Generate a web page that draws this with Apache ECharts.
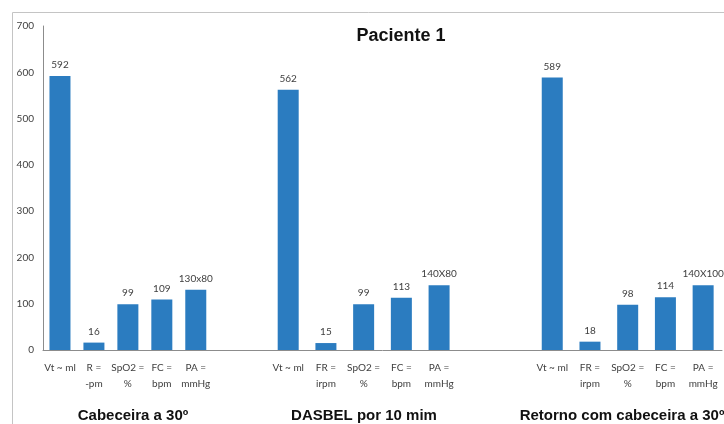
<!DOCTYPE html>
<html>
<head>
<meta charset="utf-8">
<script src="https://cdn.jsdelivr.net/npm/echarts@6/dist/echarts.min.js"></script>
<style>
  html, body { margin: 0; padding: 0; background: #fff; }
  #chart { width: 724px; height: 424px; }
</style>
</head>
<body>
<div id="chart"></div>
<script>
// First group ("Cabeceira a 30º") sits on its own, tighter category axis
const group1Categories = ['Vt ~ ml', 'R =\n-pm', 'SpO2 =\n%', 'FC =\nbpm', 'PA =\nmmHg'];
const group1Values = [592, 16, 99, 109, 130];
const group1Labels = ['592', '16', '99', '109', '130x80'];
const group1Slots = 20; // total slots on that axis; only the first five are used

// Second and third groups, with empty slots before and between them
const categories = [
  '', '', '', '', '',
  '',
  'Vt ~ ml', 'FR =\nirpm', 'SpO2 =\n%', 'FC =\nbpm', 'PA =\nmmHg',
  '', '',
  'Vt ~ ml', 'FR =\nirpm', 'SpO2 =\n%', 'FC =\nbpm', 'PA =\nmmHg'
];
const values = [
  null, null, null, null, null,
  null,
  562, 15, 99, 113, 140,
  null, null,
  589, 18, 98, 114, 140
];
const valueLabels = [
  '', '', '', '', '',
  '',
  '562', '15', '99', '113', '140X80',
  '', '',
  '589', '18', '98', '114', '140X100'
];
const yTicks = [0, 100, 200, 300, 400, 500, 600, 700];
const groupTitles = ['Cabeceira a 30º', 'DASBEL por 10 mim', 'Retorno com cabeceira a 30º'];
const chartTitle = 'Paciente 1';

// Pad the first group's axis out to its slot count
const g1Cats = group1Categories.concat(new Array(group1Slots - group1Categories.length).fill(''));
const g1Vals = group1Values.concat(new Array(group1Slots - group1Values.length).fill(null));

const textColor = '#404040';
const labelFont = { color: textColor, fontFamily: 'Lato', fontSize: 10 };
const barColor = '#2b7cc0';

const chart = echarts.init(document.getElementById('chart'));
chart.setOption({
  animation: false,
  backgroundColor: '#fff',
  title: {
    text: chartTitle,
    left: 396,
    top: 22,
    textAlign: 'center',
    textStyle: { fontFamily: 'Liberation Sans', fontWeight: 'bold', fontSize: 18, color: '#111' }
  },
  grid: { left: 43, right: 2, top: 26, bottom: 74, containLabel: false },
  xAxis: [
    {
      type: 'category',
      data: categories,
      axisTick: { show: false },
      axisLine: { lineStyle: { color: '#8c8c8c', width: 1 } },
      axisLabel: Object.assign({ interval: 0, lineHeight: 16, margin: 10 }, labelFont)
    },
    {
      type: 'category',
      position: 'bottom',
      data: g1Cats,
      axisTick: { show: false },
      axisLine: { show: false },
      axisLabel: Object.assign({ interval: 0, lineHeight: 16, margin: 10 }, labelFont)
    }
  ],
  yAxis: {
    type: 'value',
    min: yTicks[0],
    max: yTicks[yTicks.length - 1],
    interval: 100,
    splitLine: { show: false },
    axisTick: { show: false },
    axisLine: { show: true, lineStyle: { color: '#8c8c8c', width: 1 } },
    axisLabel: Object.assign({ margin: 9 }, labelFont)
  },
  series: [
    {
      type: 'bar',
      xAxisIndex: 1,
      data: g1Vals,
      barWidth: 21,
      itemStyle: { color: barColor },
      label: Object.assign({
        show: true, position: 'top', distance: 6,
        formatter: p => group1Labels[p.dataIndex] || ''
      }, labelFont)
    },
    {
      type: 'bar',
      xAxisIndex: 0,
      data: values,
      barWidth: 21,
      itemStyle: { color: barColor },
      label: Object.assign({
        show: true, position: 'top', distance: 6,
        formatter: p => valueLabels[p.dataIndex]
      }, labelFont)
    }
  ],
  graphic: [
    {
      type: 'rect',
      shape: { x: 12.5, y: 12.5, width: 800, height: 500 },
      style: { fill: 'none', stroke: '#c4c4c4', lineWidth: 1 },
      z: -1
    },
    {
      type: 'text', x: 133, y: 416,
      style: { text: groupTitles[0], textAlign: 'center', textVerticalAlign: 'middle',
        font: 'bold 15px "Liberation Sans"', fill: '#111' }
    },
    {
      type: 'text', x: 364, y: 416,
      style: { text: groupTitles[1], textAlign: 'center', textVerticalAlign: 'middle',
        font: 'bold 15px "Liberation Sans"', fill: '#111' }
    },
    {
      type: 'text', x: 622, y: 416,
      style: { text: groupTitles[2], textAlign: 'center', textVerticalAlign: 'middle',
        font: 'bold 15px "Liberation Sans"', fill: '#111' }
    }
  ]
});
</script>
</body>
</html>
